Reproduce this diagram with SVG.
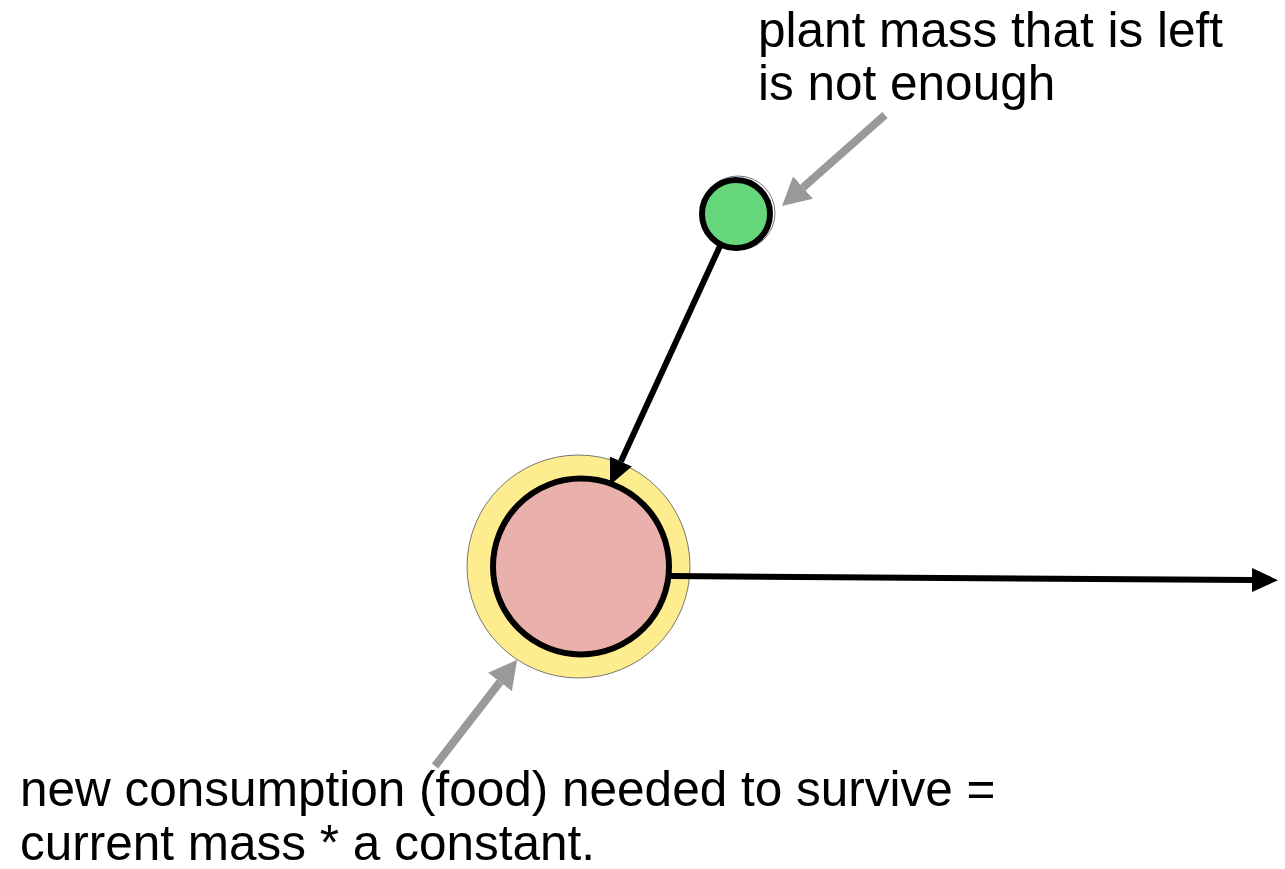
<svg xmlns="http://www.w3.org/2000/svg" width="1285" height="869" viewBox="0 0 1285 869">
<style>
text{font-family:"Liberation Sans",Arial,sans-serif;font-size:49.5px;fill:#000}
.conn{stroke:#000;stroke-width:6;fill:none}
.note{stroke:#999;stroke-width:8;fill:none}
</style>
<defs>
<marker id="ah" markerUnits="userSpaceOnUse" viewBox="0 0 26 24" refX="0" refY="12" markerWidth="26" markerHeight="24" orient="auto"><path d="M0,0L26,12L0,24Z" fill="#000"/></marker>
<marker id="gh" markerUnits="userSpaceOnUse" viewBox="0 0 28 30" refX="0" refY="15" markerWidth="28" markerHeight="30" orient="auto"><path d="M0,0L28,15L0,30Z" fill="#999"/></marker>
</defs>
<rect width="1285" height="869" fill="#fff"/>
<g id="outer-ring"><circle cx="578.5" cy="566.5" r="111.5" fill="#feed8e" stroke="#555" stroke-width="0.8"/></g>
<g id="consumer"><circle cx="581" cy="566.5" r="88" fill="#eab0ac" stroke="#000" stroke-width="6"/></g>
<g id="plant"><circle cx="738" cy="213" r="37" fill="none" stroke="#777" stroke-width="1"/><circle cx="736" cy="214" r="34" fill="#66d67a" stroke="#000" stroke-width="6"/></g>
<g id="connectors">
<line class="conn" x1="720" y1="246" x2="620.9" y2="461.4" marker-end="url(#ah)"/>
<line class="conn" x1="670" y1="576" x2="1252" y2="580" marker-end="url(#ah)"/>
<line class="note" x1="885" y1="115" x2="803" y2="187.5" marker-end="url(#gh)"/>
<line class="note" x1="435" y1="766" x2="500" y2="682" marker-end="url(#gh)"/>
</g>
<g id="label-top"><text x="758" y="47">plant mass that is left</text><text x="758" y="100">is not enough</text></g>
<g id="label-bottom"><text x="20" y="806">new consumption (food) needed to survive =</text><text x="20" y="860">current mass * a constant.</text></g>
</svg>
